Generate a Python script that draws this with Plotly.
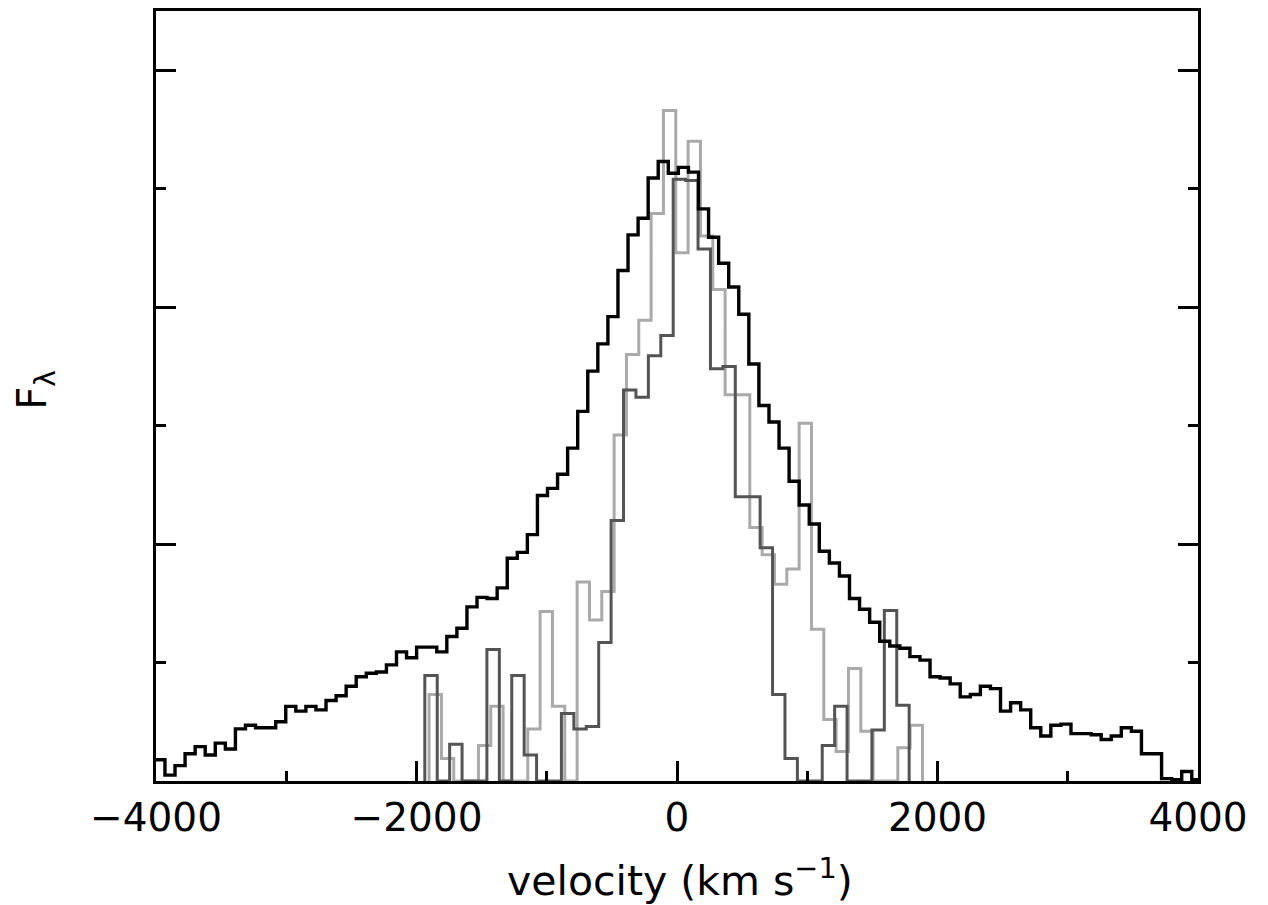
import plotly.graph_objects as go

# ---------------- data ----------------
# Black spectrum: regular velocity bins
BLACK_V0 = -4008.6      # left edge of first bin (km/s)
BLACK_DV = 77.29        # bin width (km/s)
black_flux = [
    0.18, 0.05, 0.13, 0.23, 0.29, 0.22, 0.32, 0.27, 0.44, 0.47,
    0.45, 0.45, 0.50, 0.63, 0.59, 0.63, 0.60, 0.68, 0.72, 0.80,
    0.88, 0.91, 0.92, 0.98, 1.09, 1.04, 1.13, 1.13, 1.09, 1.22,
    1.29, 1.47, 1.55, 1.54, 1.63, 1.88, 1.93, 2.08, 2.41, 2.47,
    2.59, 2.81, 3.12, 3.46, 3.69, 3.92, 4.31, 4.61, 4.75, 5.09,
    5.23, 5.13, 5.18, 5.14, 4.83, 4.59, 4.37, 4.17, 3.94, 3.52,
    3.17, 3.03, 2.81, 2.53, 2.33, 2.17, 1.94, 1.84, 1.73, 1.54,
    1.45, 1.34, 1.18, 1.14, 1.12, 1.05, 1.02, 0.88, 0.87, 0.82,
    0.71, 0.73, 0.80, 0.78, 0.59, 0.66, 0.60, 0.45, 0.38, 0.47,
    0.48, 0.40, 0.40, 0.39, 0.35, 0.38, 0.45, 0.42, 0.23, 0.23,
    0.02, 0.01, 0.08, 0.01,
]

# Dark grey spectrum
DARK_V0 = -1936.2
DARK_DV = 95.35
dark_flux = [
    0.89, 0.00, 0.31, 0.00, 0.00, 1.11, 0.00, 0.89, 0.22, 0.00,
    0.00, 0.57, 0.44, 0.46, 1.17, 2.20, 3.30, 3.24, 3.59, 3.76,
    5.08, 5.07, 4.49, 3.48, 3.50, 2.40, 2.40, 1.97, 0.73, 0.19,
    0.00, 0.00, 0.30, 0.63, 0.00, 0.00, 0.43, 1.44, 0.64,
]

# Light grey spectrum
LIGHT_V0 = -1903.3
LIGHT_DV = 94.7
light_flux = [
    0.73, 0.19, 0.00, 0.00, 0.30, 0.63, 0.00, 0.00, 0.44, 1.43,
    0.63, 0.00, 1.68, 1.36, 1.60, 2.92, 3.60, 3.89, 4.79, 5.66,
    4.46, 5.40, 4.60, 4.15, 3.26, 3.26, 2.14, 1.91, 1.66, 1.79,
    3.02, 1.28, 0.52, 0.25, 0.95, 0.42, 0.00, 0.00, 0.28, 0.47,
]

x_ticks = [-4000, -2000, 0, 2000, 4000]


def step_xy(v0, dv, vals, close=False):
    xs, ys = [], []
    if close:
        xs.append(v0)
        ys.append(0.0)
    for i, v in enumerate(vals):
        left = v0 + i * dv
        right = v0 + (i + 1) * dv
        xs += [left, right]
        ys += [v, v]
    if close:
        xs.append(v0 + len(vals) * dv)
        ys.append(0.0)
    return xs, ys


fig = go.Figure()
for v0, dv, vals, col, w, close in [
    (LIGHT_V0, LIGHT_DV, light_flux, "#aaaaaa", 3.0, True),
    (DARK_V0, DARK_DV, dark_flux, "#545454", 3.0, True),
    (BLACK_V0, BLACK_DV, black_flux, "#000000", 3.4, False),
]:
    xs, ys = step_xy(v0, dv, vals, close)
    fig.add_trace(go.Scatter(x=xs, y=ys, mode="lines",
                             line=dict(color=col, width=w, shape="linear"),
                             hoverinfo="skip", showlegend=False))

FONT = "DejaVu Sans"
# The page body adds an 8 px offset, so the figure is 8 px smaller each way.
fig.update_layout(
    width=1260, height=897,
    margin=dict(l=148, r=70, t=0, b=124, pad=0),
    paper_bgcolor="white", plot_bgcolor="white",
    font=dict(family=FONT, size=39, color="black"),
    xaxis=dict(
        range=[-4000, 4000], tickvals=x_ticks, ticks="inside",
        ticklen=20, tickwidth=3, tickcolor="black",
        showline=True, linecolor="black", linewidth=3, mirror=True,
        showgrid=False, zeroline=False,
        tickfont=dict(family=FONT, size=39, color="black"),
        minor=dict(dtick=1000, tick0=0, ticks="inside", ticklen=10,
                   tickwidth=3, tickcolor="black", showgrid=False),
    ),
    yaxis=dict(
        range=[0, 6.5], dtick=2, tick0=0, ticks="inside",
        ticklen=20, tickwidth=3, tickcolor="black",
        showline=True, linecolor="black", linewidth=3, mirror="ticks",
        showgrid=False, zeroline=False, showticklabels=False,
        minor=dict(dtick=1, tick0=0, ticks="inside", ticklen=10,
                   tickwidth=3, tickcolor="black", showgrid=False),
    ),
    annotations=[
        dict(text="velocity (km s<sup>\u22121</sup>)", xref="paper", yref="paper",
             x=0.503, y=-0.1255, xanchor="center", yanchor="middle",
             showarrow=False, font=dict(family=FONT, size=41, color="black")),
        dict(text="F<sub>\u03bb</sub>", xref="paper", yref="paper",
             x=-0.1161, y=0.508, xanchor="center", yanchor="middle",
             textangle=-90, showarrow=False,
             font=dict(family=FONT, size=40, color="black")),
    ],
)

fig.write_html("out.html")
